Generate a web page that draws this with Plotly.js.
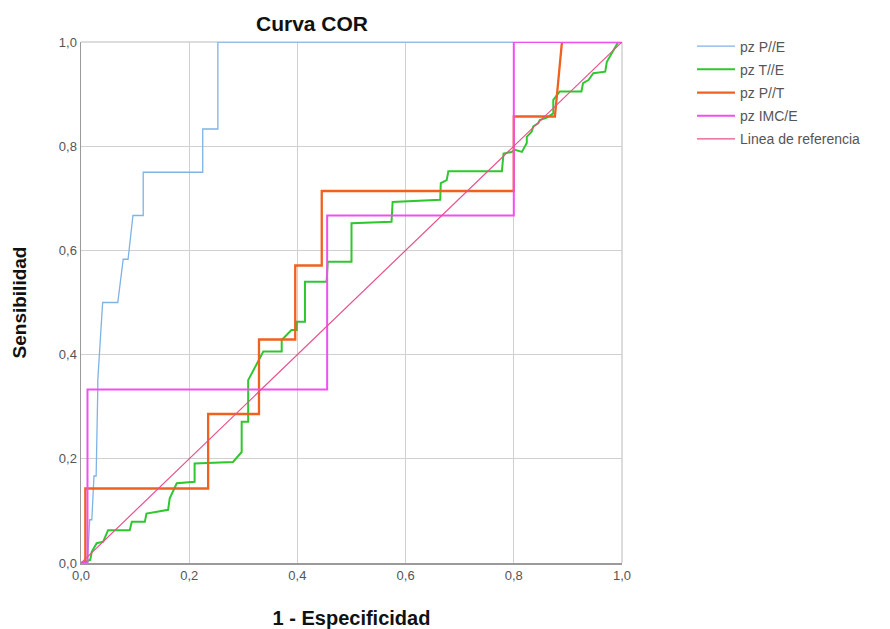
<!DOCTYPE html>
<html>
<head>
<meta charset="utf-8">
<script src="https://cdn.plot.ly/plotly-3.0.1.min.js"></script>
<style>html,body{margin:0;padding:0;background:#fff;}#chart{width:890px;height:629px;}</style>
</head>
<body>
<div id="chart"></div>
<script>
// Series names
var seriesNames = ["pz P//E", "pz T//E", "pz P//T", "pz IMC/E", "Linea de referencia"];

// pz P//E (1 - especificidad, sensibilidad)
var pzPE_x = [0, 0.012, 0.016, 0.02, 0.024, 0.028, 0.031, 0.031, 0.04, 0.068, 0.078, 0.087, 0.096, 0.115, 0.115, 0.225, 0.225, 0.253, 0.253, 1.0];
var pzPE_y = [0, 0, 0.083, 0.083, 0.167, 0.167, 0.333, 0.35, 0.5, 0.5, 0.583, 0.583, 0.667, 0.667, 0.75, 0.75, 0.833, 0.833, 1.0, 1.0];

// pz T//E
var pzTE_x = [0, 0.017, 0.02, 0.029, 0.041, 0.047, 0.05, 0.09, 0.094, 0.118, 0.121, 0.161, 0.164, 0.177, 0.21, 0.21, 0.281, 0.297, 0.297, 0.309, 0.309, 0.337, 0.371, 0.371, 0.389, 0.399, 0.399, 0.414, 0.414, 0.454, 0.456, 0.5, 0.5, 0.574, 0.576, 0.664, 0.665, 0.676, 0.679, 0.778, 0.781, 0.796, 0.802, 0.815, 0.824, 0.824, 0.833, 0.836, 0.845, 0.848, 0.861, 0.873, 0.873, 0.885, 0.925, 0.928, 0.938, 0.947, 0.969, 0.972, 0.981, 0.987, 0.993, 1.0];
var pzTE_y = [0, 0.006, 0.022, 0.038, 0.041, 0.054, 0.063, 0.063, 0.079, 0.079, 0.095, 0.102, 0.124, 0.153, 0.156, 0.191, 0.194, 0.213, 0.271, 0.271, 0.351, 0.406, 0.406, 0.428, 0.447, 0.447, 0.463, 0.463, 0.54, 0.54, 0.578, 0.578, 0.652, 0.655, 0.693, 0.697, 0.729, 0.735, 0.752, 0.752, 0.786, 0.789, 0.793, 0.789, 0.806, 0.818, 0.828, 0.838, 0.844, 0.85, 0.855, 0.863, 0.889, 0.905, 0.905, 0.921, 0.927, 0.94, 0.943, 0.962, 0.978, 0.991, 1.0, 1.0];

// pz P//T
var pzPT_x = [0, 0.008, 0.008, 0.235, 0.235, 0.329, 0.329, 0.396, 0.396, 0.445, 0.445, 0.8, 0.8, 0.876, 0.889, 1.0];
var pzPT_y = [0, 0, 0.143, 0.143, 0.286, 0.286, 0.429, 0.429, 0.571, 0.571, 0.714, 0.714, 0.857, 0.857, 1.0, 1.0];

// pz IMC/E
var pzIMC_x = [0, 0.012, 0.012, 0.455, 0.455, 0.8, 0.8, 1.0];
var pzIMC_y = [0, 0, 0.333, 0.333, 0.667, 0.667, 1.0, 1.0];

// Reference line
var ref_x = [0, 1];
var ref_y = [0, 1];

// Axis ticks
var tickVals = [0, 0.2, 0.4, 0.6, 0.8, 1.0];
var tickText = ["0,0", "0,2", "0,4", "0,6", "0,8", "1,0"];

var traces = [
  {x: pzPE_x, y: pzPE_y, name: seriesNames[0], legendgroup: "a", mode: "lines", line: {color: "#7fb3e6", width: 1.3}},
  {x: pzTE_x, y: pzTE_y, name: seriesNames[1], legendgroup: "b", mode: "lines", line: {color: "#2ec82e", width: 2}},
  {x: pzPT_x, y: pzPT_y, name: seriesNames[2], legendgroup: "c", mode: "lines", line: {color: "#f0601e", width: 2.3}},
  {x: pzIMC_x, y: pzIMC_y, name: seriesNames[3], legendgroup: "d", mode: "lines", line: {color: "#f050f0", width: 2}},
  {x: ref_x, y: ref_y, name: seriesNames[4], legendgroup: "e", mode: "lines", line: {color: "#e8508c", width: 1.2}}
];

var layout = {
  width: 890, height: 629,
  margin: {l: 81, r: 268, t: 42, b: 66},
  paper_bgcolor: "#ffffff", plot_bgcolor: "#ffffff",
  font: {family: "Liberation Sans, Arial, sans-serif", color: "#444"},
  title: {text: "<b>Curva COR</b>", x: (312 - 81) / 541, xref: "paper", xanchor: "center", y: 1 - 24/629, yref: "container", yanchor: "middle", font: {size: 21, color: "#111"}},
  xaxis: {
    range: [0, 1], tickvals: tickVals, ticktext: tickText, showgrid: true, gridcolor: "#d0d0d0", gridwidth: 1,
    zeroline: false, showline: true, linecolor: "#9a9a9a", linewidth: 1.5, ticks: "", tickfont: {size: 13, color: "#555"},
    title: {text: "<b>1 - Especificidad</b>", font: {size: 20, color: "#111"}, standoff: 30}, fixedrange: true
  },
  yaxis: {
    range: [0, 1], tickvals: tickVals, ticktext: tickText, showgrid: true, gridcolor: "#d0d0d0", gridwidth: 1,
    zeroline: false, showline: true, linecolor: "#9a9a9a", linewidth: 1.5, ticks: "", tickfont: {size: 13, color: "#555"},
    title: {text: "<b>Sensibilidad</b>", font: {size: 19, color: "#111"}, standoff: 27}, fixedrange: true
  },
  shapes: [
    {type: "line", xref: "paper", yref: "paper", x0: 0, x1: 1, y0: 1, y1: 1, line: {color: "#d0d0d0", width: 1.5}, layer: "below"},
    {type: "line", xref: "paper", yref: "paper", x0: 1, x1: 1, y0: 0, y1: 1, line: {color: "#d0d0d0", width: 1.5}, layer: "below"}
  ],
  showlegend: true,
  legend: {
    x: (692 - 81) / 541, xanchor: "left", y: 1.022, yanchor: "top",
    font: {size: 14, color: "#555"}, bgcolor: "rgba(0,0,0,0)",
    traceorder: "grouped", tracegroupgap: 2, itemwidth: 38
  }
};

Plotly.newPlot("chart", traces, layout, {displayModeBar: false, staticPlot: true});
</script>
</body>
</html>
